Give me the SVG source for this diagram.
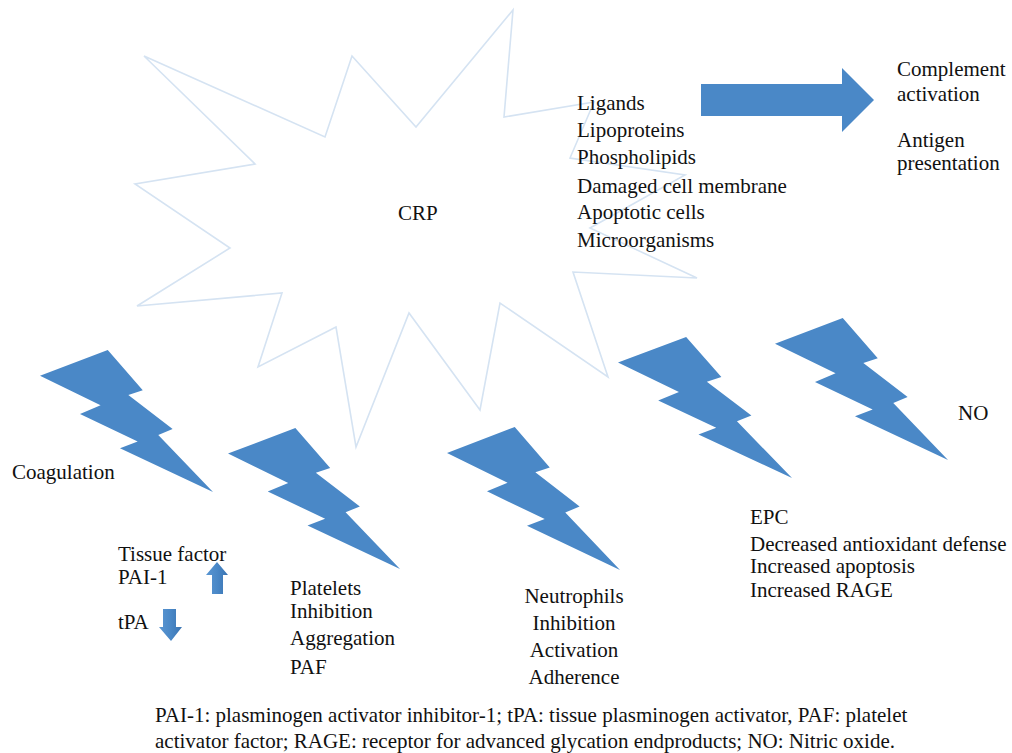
<svg xmlns="http://www.w3.org/2000/svg" width="1012" height="753" viewBox="0 0 1012 753">
<style>
text{font-family:"Liberation Serif","Times New Roman",serif;font-size:21px;fill:#111}
.bolt{fill:#4a88c7}
.burst{fill:#fff;stroke:#d5e3f2;stroke-width:1.6;stroke-linejoin:miter}
.mid{text-anchor:middle}
</style>
<defs>
<path id="boltShape" d="M39.157,0 L0,18.162 L35.019,38.963 L23.116,45 L56.468,64.37 L46.236,69.139 L100,100 L68.37,59.773 L76.657,55.63 L51.065,31.667 L59.403,28.333 Z"/>
<linearGradient id="smallArrow" x1="0" y1="0" x2="1" y2="0">
<stop offset="0" stop-color="#5a96d2"/>
<stop offset="0.5" stop-color="#4a88c7"/>
<stop offset="1" stop-color="#3a74b2"/>
</linearGradient>
</defs>
<rect width="1012" height="753" fill="#fff"/>

<g id="crp">
<polygon class="burst" points="594,102 570,158 685,175 590,228 697,278 573,272 608,377 500,303 480,410 409,313 356,447 336,327 258,367 282,293 137,306 230,248 135,184 255,164 144,56 325,137 352,56 416,127 513,10 504,117"/>
<text x="398" y="220">CRP</text>
</g>

<g id="ligands">
<text x="577" y="110">Ligands</text>
<text x="577" y="137">Lipoproteins</text>
<text x="577" y="164">Phospholipids</text>
<text x="577" y="193">Damaged cell membrane</text>
<text x="577" y="219">Apoptotic cells</text>
<text x="577" y="247">Microorganisms</text>
</g>

<g id="outcomes">
<text x="897" y="76">Complement</text>
<text x="897" y="101">activation</text>
<text x="897" y="147">Antigen</text>
<text x="897" y="170">presentation</text>
</g>

<g id="connectors">
<polygon class="bolt" points="701,84 842,84 842,68 874,100 842,132 842,116 701,116"/>
</g>

<g id="bolt-coagulation">
<use href="#boltShape" class="bolt" transform="translate(40,350) scale(1.73,1.42)"/>
<text x="12" y="479">Coagulation</text>
</g>

<g id="coag-details">
<text x="118" y="561">Tissue factor</text>
<text x="118" y="584">PAI-1</text>
<text x="118" y="629">tPA</text>
<polygon fill="url(#smallArrow)" points="217,562 228,575 223,575 223,594 212,594 212,575 206,575"/>
<polygon fill="url(#smallArrow)" points="163,609 176,609 176,627 182,627 171,641 159,627 163,627"/>
</g>

<g id="bolt-platelets">
<use href="#boltShape" class="bolt" transform="translate(228,428) scale(1.72,1.41)"/>
<text x="290" y="595">Platelets</text>
<text x="290" y="618">Inhibition</text>
<text x="290" y="645">Aggregation</text>
<text x="290" y="674">PAF</text>
</g>

<g id="bolt-neutrophils">
<use href="#boltShape" class="bolt" transform="translate(447,427) scale(1.73,1.43)"/>
<text class="mid" x="574" y="603">Neutrophils</text>
<text class="mid" x="574" y="630">Inhibition</text>
<text class="mid" x="574" y="657">Activation</text>
<text class="mid" x="574" y="684">Adherence</text>
</g>

<g id="bolt-epc">
<use href="#boltShape" class="bolt" transform="translate(618,337) scale(1.74,1.41)"/>
<text x="750" y="524">EPC</text>
<text x="750" y="551">Decreased antioxidant defense</text>
<text x="750" y="573">Increased apoptosis</text>
<text x="750" y="597">Increased RAGE</text>
</g>

<g id="bolt-no">
<use href="#boltShape" class="bolt" transform="translate(775,318) scale(1.73,1.42)"/>
<text x="958" y="420">NO</text>
</g>

<g id="footnote">
<text x="155" y="722">PAI-1: plasminogen activator inhibitor-1; tPA: tissue plasminogen activator, PAF: platelet</text>
<text x="155" y="748">activator factor; RAGE: receptor for advanced glycation endproducts; NO: Nitric oxide.</text>
</g>
</svg>
